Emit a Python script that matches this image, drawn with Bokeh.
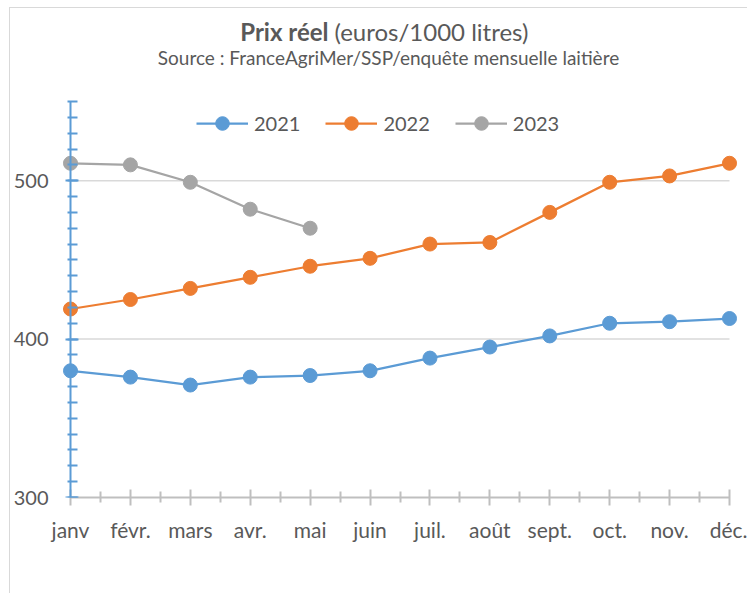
from bokeh.plotting import figure
from bokeh.models import (FixedTicker, Range1d, Legend, LegendItem, Label, LinearAxis)
from bokeh.embed import file_html
from bokeh.resources import INLINE

months = ["janv", "févr.", "mars", "avr.", "mai", "juin", "juil.", "août",
          "sept.", "oct.", "nov.", "déc."]
v2021 = [380, 376, 371, 376, 377, 380, 388, 395, 402, 410, 411, 413]
v2022 = [419, 425, 432, 439, 446, 451, 460, 461, 480, 499, 503, 511]
v2023 = [511, 510, 499, 482, 470]
y_major = [300, 400, 500]
y_min, y_max = 300, 550
title_bold = "Prix réel"
title_rest = "(euros/1000 litres)"
subtitle = "Source : FranceAgriMer/SSP/enquête mensuelle laitière"

FONT = "Lato"
TXT = "#595959"
GRID = "#d9d9d9"
C21, C22, C23 = "#5B9BD5", "#ED7D31", "#A5A5A5"

xs = list(range(len(months)))

# layout (pixels)
W, H = 747, 593
AX_L, AX_R, FB = 70, 729, 497      # first month, last month, value 300 on the canvas
PAD = 9                            # room so end markers are not clipped
axis_px = 396                      # pixel height of the 300..550 span
top_val = y_min + (y_max - y_min) * FB / axis_px
upx = (xs[-1] - xs[0]) / (AX_R - AX_L)
FL = AX_L - PAD                    # frame left on canvas

p = figure(width=W, height=H, output_backend="svg", toolbar_location=None,
           x_range=Range1d(xs[0] - PAD * upx, xs[-1] + PAD * upx),
           y_range=Range1d(y_min, top_val),
           min_border_left=FL, min_border_right=W - (AX_R + PAD), min_border_top=0,
           min_border_bottom=H - FB, title=None)
p.outline_line_color = None
p.background_fill_alpha = 0
p.border_fill_alpha = 0
p.styles = {"background": "linear-gradient(#d9d9d9,#d9d9d9) 9px 7px / 100% 1px no-repeat, "
                          "linear-gradient(#d9d9d9,#d9d9d9) 9px 7px / 1px 100% no-repeat, #ffffff"}

# x axis
p.xaxis.ticker = FixedTicker(ticks=xs, minor_ticks=[i + 0.5 for i in xs[:-1]])
p.xaxis.bounds = (xs[0], xs[-1])
p.xaxis.major_label_overrides = {i: m for i, m in enumerate(months)}
p.xaxis.axis_line_color = "#bfbfbf"
p.xaxis.axis_line_width = 2
p.xaxis.major_tick_line_color = "#bfbfbf"
p.xaxis.major_tick_line_width = 2
p.xaxis.major_tick_in = 8
p.xaxis.major_tick_out = 8
p.xaxis.minor_tick_line_color = "#bfbfbf"
p.xaxis.minor_tick_line_width = 2
p.xaxis.minor_tick_in = 6
p.xaxis.minor_tick_out = 5
p.xaxis.major_label_text_font = FONT
p.xaxis.major_label_text_font_size = "21px"
p.xaxis.major_label_text_color = TXT
p.xaxis.major_label_standoff = 11

# y axis labels (left panel, no line / ticks)
p.yaxis.ticker = FixedTicker(ticks=y_major)
p.yaxis.axis_line_color = None
p.yaxis.major_tick_line_color = None
p.yaxis.minor_tick_line_color = None
p.yaxis.major_tick_out = 0
p.yaxis.major_tick_in = 0
p.yaxis.major_label_text_font = FONT
p.yaxis.major_label_text_font_size = "20px"
p.yaxis.major_label_text_color = TXT
p.yaxis.major_label_standoff = 13

# y axis line + ticks, crossing at the first month
yline = LinearAxis(ticker=FixedTicker(ticks=y_major, minor_ticks=list(range(y_min, y_max + 1, 10))),
                   fixed_location=xs[0], bounds=(y_min, y_max),
                   major_label_overrides={v: "" for v in y_major}, major_label_standoff=0,
                   axis_line_color=C21, axis_line_width=2,
                   major_tick_line_color=C21, major_tick_line_width=2,
                   major_tick_in=5, major_tick_out=8,
                   minor_tick_line_color=C21, minor_tick_line_width=2,
                   minor_tick_in=3, minor_tick_out=7)
p.add_layout(yline, "right")

p.xgrid.grid_line_color = None
p.ygrid.grid_line_color = None
grid_y = [v for v in y_major if v > y_min]
p.segment(x0=[xs[0]] * len(grid_y), x1=[xs[-1]] * len(grid_y), y0=grid_y, y1=grid_y,
          line_color=GRID, line_width=1.5)

items = []
for label, vals, col in [("2021", v2021, C21), ("2022", v2022, C22), ("2023", v2023, C23)]:
    x = xs[:len(vals)]
    l = p.line(x, vals, line_color=col, line_width=2.25)
    s = p.scatter(x, vals, size=14, fill_color=col, line_color=col, marker="circle")
    items.append(LegendItem(label=label, renderers=[l, s]))

legend = Legend(items=items, orientation="horizontal", location=(196 - FL, FB - 123 - 17),
                glyph_width=52, glyph_height=34, label_standoff=6, spacing=25,
                padding=0, margin=0, background_fill_alpha=0, border_line_color=None,
                label_text_font=FONT, label_text_font_size="20px",
                label_text_color=TXT, label_height=34)
p.add_layout(legend, "center")

TB, SB = 31, 57   # baselines (canvas y from top)
p.add_layout(Label(x=328 - FL, y=FB - TB, x_units="screen", y_units="screen", text=title_bold,
                   text_font=FONT, text_font_size="24px", text_font_style="bold",
                   text_color=TXT, text_align="right", text_baseline="alphabetic"))
p.add_layout(Label(x=334 - FL, y=FB - TB, x_units="screen", y_units="screen", text=title_rest,
                   text_font=FONT, text_font_size="24px", text_color=TXT,
                   text_align="left", text_baseline="alphabetic"))
p.add_layout(Label(x=388 - FL, y=FB - SB, x_units="screen", y_units="screen", text=subtitle,
                   text_font=FONT, text_font_size="19px", text_color=TXT,
                   text_align="center", text_baseline="alphabetic"))

open("out.html", "w").write(file_html(p, INLINE))
